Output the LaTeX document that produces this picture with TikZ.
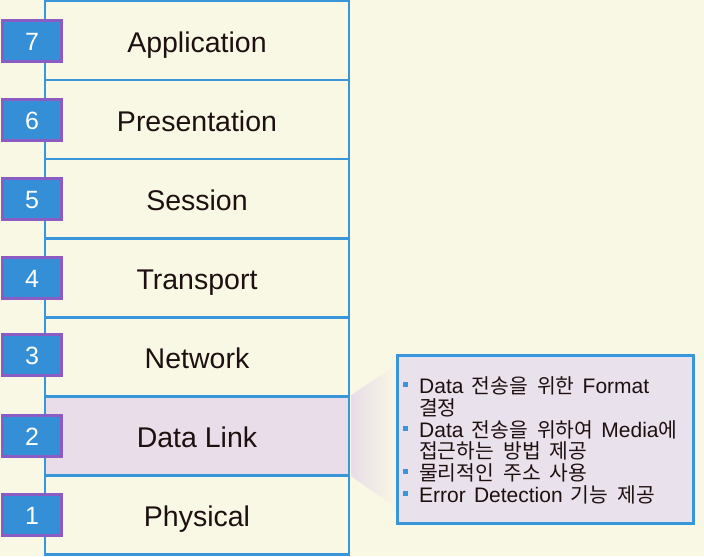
\documentclass[tikz,border=0pt]{standalone}
\usepackage{fontspec}
\setmainfont{Liberation Sans}
\newfontfamily\kr[Scale=0.97,WordSpace=2.0]{Noto Sans CJK KR}
\newfontfamily\itemfont[WordSpace=1.4]{Liberation Sans}
\definecolor{bgcream}{HTML}{F9F8E4}
\definecolor{layerblue}{HTML}{3A96DA}
\definecolor{numblue}{HTML}{358FD6}
\definecolor{numpurple}{HTML}{8A5CC4}
\definecolor{linklav}{HTML}{E8DDE8}
\definecolor{boxlav}{HTML}{E9E1EB}
\definecolor{textdark}{HTML}{1E1010}

\begin{document}
\begin{tikzpicture}[x=1pt,y=-1pt,
 layer/.style={draw=layerblue,line width=2.5pt,fill=bgcream,minimum width=304pt,minimum height=79pt,inner sep=0pt,text height=23pt,text depth=0pt,text=textdark,font=\fontsize{28.5}{30}\selectfont},
 num/.style={draw=numpurple,line width=3pt,fill=numblue,minimum width=59pt,minimum height=41pt,inner sep=0pt,text height=19pt,text depth=0pt,text=white,font=\fontsize{25}{28}\selectfont},
 infobox/.style={draw=layerblue,line width=3pt,fill=boxlav,minimum width=296pt,minimum height=168pt,inner sep=0pt},
 itemtext/.style={anchor=base west,inner sep=0pt,text=textdark,font=\itemfont\fontsize{21}{22}\selectfont}]
 \fill[bgcream] (0,0) rectangle (704,556); %background

 % OSI layers
 \node[layer] (L7) at (197,40.5) {Application};
 \node[layer] (L6) at (197,119.5) {Presentation};
 \node[layer] (L5) at (197,198.5) {Session};
 \node[layer] (L4) at (197,277.5) {Transport};
 \node[layer] (L3) at (197,356.5) {Network};
 \node[layer,fill=linklav] (L2) at (197,435.5) {Data Link};
 \node[layer] (L1) at (197,514.5) {Physical};

 % layer numbers
 \node[num] (n7) at (32,40.5) {7};
 \node[num] (n6) at (32,119.5) {6};
 \node[num] (n5) at (32,198.5) {5};
 \node[num] (n4) at (32,277.5) {4};
 \node[num] (n3) at (32,355) {3};
 \node[num] (n2) at (32,435.5) {2};
 \node[num] (n1) at (32,514.5) {1};

 % callout
 \coordinate (t1) at (397,364);
 \coordinate (t2) at (397,508);
 \shade[left color=linklav,right color=bgcream] ([xshift=1.25pt]L2.north east)--(t1)--(t2)--([xshift=1.25pt]L2.south east)--cycle;
 \node[infobox] (info) at (545.5,439.5) {};

 \node[itemtext] (i1) at (419,393) {Data {\kr 전송을 위한} Format};
 \node[itemtext] (i2) at (419,415) {\kr 결정};
 \node[itemtext] (i3) at (419,437) {Data {\kr 전송을 위하여} Media{\kr 에}};
 \node[itemtext] (i4) at (419,458.5) {\kr 접근하는 방법 제공};
 \node[itemtext] (i5) at (419,480) {\kr 물리적인 주소 사용};
 \node[itemtext] (i6) at (419,502) {Error Detection {\kr 기능 제공}};
 \fill[layerblue] (403,382) rectangle (408,387); %bullets
 \fill[layerblue] (403,426) rectangle (408,431);
 \fill[layerblue] (403,469) rectangle (408,474);
 \fill[layerblue] (403,491) rectangle (408,496);
\end{tikzpicture}
\end{document}
